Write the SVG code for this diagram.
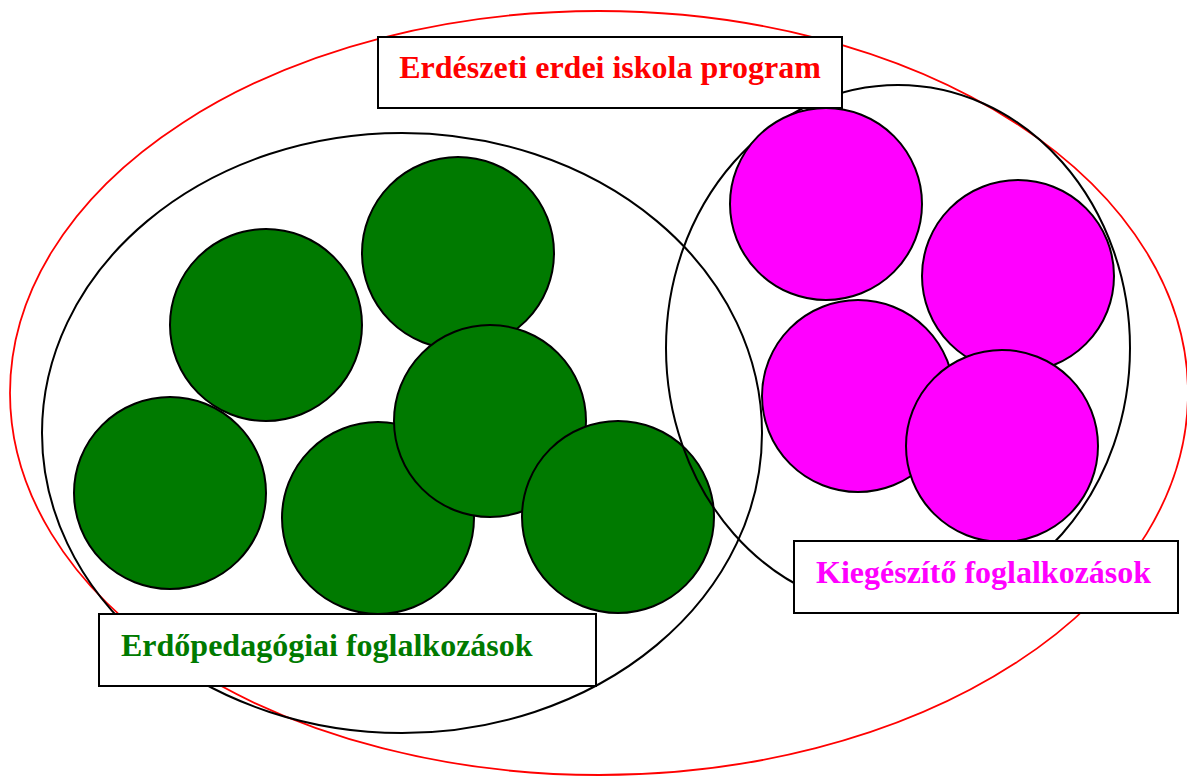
<svg xmlns="http://www.w3.org/2000/svg" width="1187" height="776" viewBox="0 0 1187 776">
<style>
.outline{fill:none;stroke:#000;stroke-width:2}
.red{fill:none;stroke:#f00;stroke-width:1.8}
.g{fill:#007a00;stroke:#000;stroke-width:2}
.m{fill:#ff00ff;stroke:#000;stroke-width:2}
.box{fill:#fff;stroke:#000;stroke-width:2}
.t{font-family:"Liberation Serif",serif;font-weight:bold;font-size:32px}
</style>
<rect width="1187" height="776" fill="#fff"/>
<g id="program-ellipse"><ellipse class="red" cx="599" cy="393" rx="589" ry="382"/></g>
<g id="erdopedagogiai-group">
<ellipse class="outline" cx="402" cy="433" rx="360" ry="300"/>
<circle class="g" cx="266" cy="325" r="96"/>
<circle class="g" cx="458" cy="253" r="96"/>
<circle class="g" cx="170" cy="493" r="96"/>
<circle class="g" cx="378" cy="518" r="96"/>
<circle class="g" cx="490" cy="421" r="96"/>
<circle class="g" cx="618" cy="517" r="96"/>
</g>
<g id="kiegeszito-group">
<ellipse class="outline" cx="898" cy="348" rx="232" ry="263"/>
<circle class="m" cx="826" cy="204" r="96"/>
<circle class="m" cx="1018" cy="276" r="96"/>
<circle class="m" cx="858" cy="396" r="96"/>
<circle class="m" cx="1002" cy="446" r="96"/>
</g>
<g id="title">
<rect class="box" x="378" y="37" width="464" height="71"/>
<text class="t" x="610" y="78" text-anchor="middle" fill="#f00">Erdészeti erdei iskola program</text>
</g>
<g id="erdopedagogiai-label">
<rect class="box" x="99" y="614" width="497" height="72"/>
<text class="t" x="121" y="656" fill="#007a00">Erdőpedagógiai foglalkozások</text>
</g>
<g id="kiegeszito-label">
<rect class="box" x="794" y="541" width="384" height="72"/>
<text class="t" x="816" y="583" fill="#ff00ff">Kiegészítő foglalkozások</text>
</g>
<g id="connectors"/>
</svg>
